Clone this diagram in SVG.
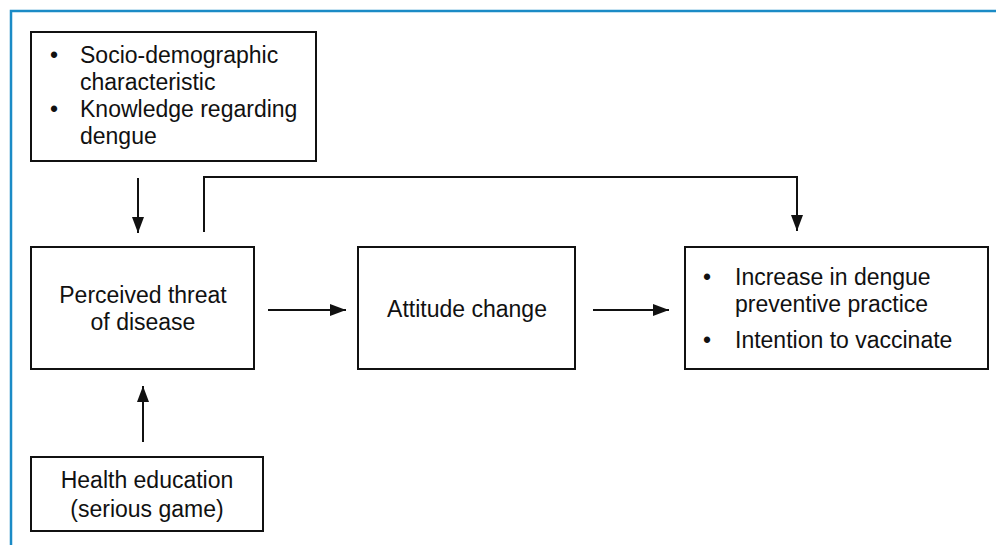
<svg xmlns="http://www.w3.org/2000/svg" width="996" height="545" viewBox="0 0 996 545">
<defs>
<style>
.box{fill:#fff;stroke:#111;stroke-width:2}
.t{font-family:"Liberation Sans",Arial,sans-serif;font-size:23px;fill:#111}
.m{text-anchor:middle}
.c{fill:none;stroke:#111;stroke-width:2}
</style>
<marker id="ah" markerUnits="userSpaceOnUse" markerWidth="16" markerHeight="14" viewBox="0 0 16 14" refX="16" refY="7" orient="auto">
<path d="M0,1 L16,7 L0,13 Z" fill="#111"/>
</marker>
</defs>
<rect width="996" height="545" fill="#fff"/>
<path d="M11,545 V11 H996" fill="none" stroke="#1b8bc6" stroke-width="2.5"/>
<g id="connectors">
<line class="c" x1="138" y1="178" x2="138" y2="233" marker-end="url(#ah)"/>
<path class="c" d="M204,232 V177 H797 V231" marker-end="url(#ah)"/>
<line class="c" x1="268" y1="310" x2="346" y2="310" marker-end="url(#ah)"/>
<line class="c" x1="593" y1="310" x2="669" y2="310" marker-end="url(#ah)"/>
<line class="c" x1="143" y1="442" x2="143" y2="386" marker-end="url(#ah)"/>
</g>
<g id="factors">
<rect class="box" x="31" y="32" width="285" height="129"/>
<text class="t" x="50" y="63">•</text>
<text class="t" x="80" y="63">Socio-demographic</text>
<text class="t" x="80" y="90">characteristic</text>
<text class="t" x="50" y="117">•</text>
<text class="t" x="80" y="117">Knowledge regarding</text>
<text class="t" x="80" y="144">dengue</text>
</g>
<g id="threat">
<rect class="box" x="31" y="247" width="223" height="122"/>
<text class="t m" x="143" y="303">Perceived threat</text>
<text class="t m" x="143" y="330">of disease</text>
</g>
<g id="attitude">
<rect class="box" x="358" y="247" width="217" height="122"/>
<text class="t m" x="467" y="317">Attitude change</text>
</g>
<g id="outcome">
<rect class="box" x="685" y="247" width="303" height="122"/>
<text class="t" x="703" y="285">•</text>
<text class="t" x="735" y="285">Increase in dengue</text>
<text class="t" x="735" y="312">preventive practice</text>
<text class="t" x="703" y="348">•</text>
<text class="t" x="735" y="348">Intention to vaccinate</text>
</g>
<g id="education">
<rect class="box" x="31" y="457" width="232" height="74"/>
<text class="t m" x="147" y="488">Health education</text>
<text class="t m" x="147" y="517">(serious game)</text>
</g>
</svg>
